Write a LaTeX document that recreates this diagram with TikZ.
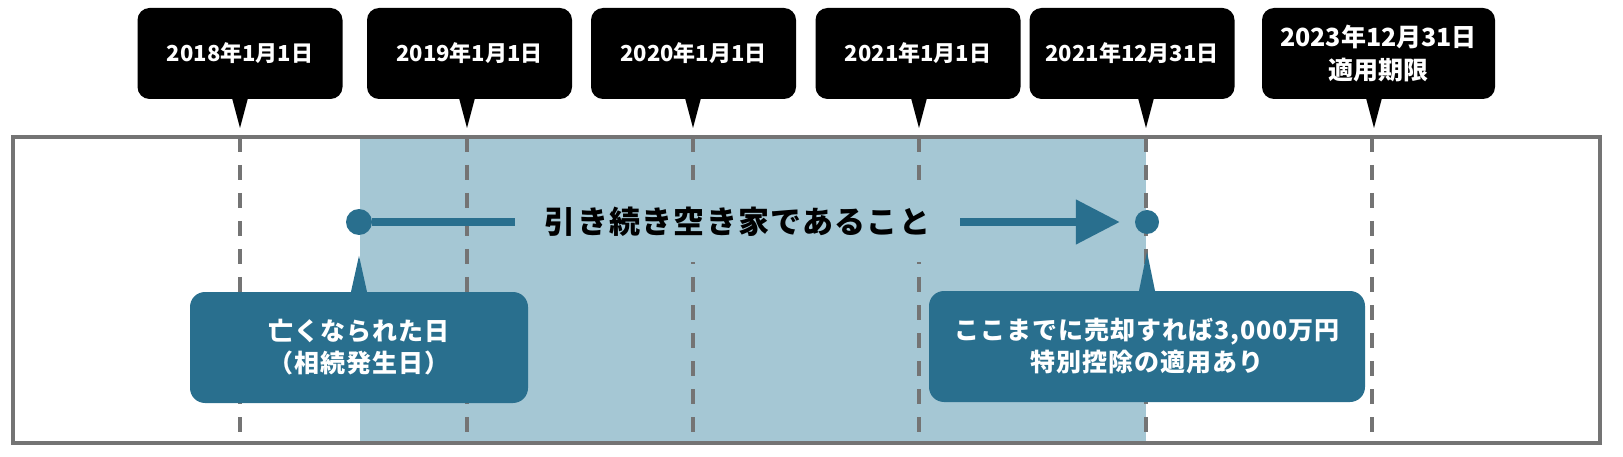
\documentclass[tikz,border=0pt]{standalone}
\usepackage{fontspec}
\usepackage{xcolor}
\usetikzlibrary{arrows.meta,positioning}
\setmainfont{Noto Sans CJK JP}
\newfontfamily\jpspaced[LetterSpace=4]{Noto Sans CJK JP}
\newfontfamily\jpwide[LetterSpace=4]{Noto Sans CJK JP}
\definecolor{shadeblue}{HTML}{A5C7D4}
\definecolor{calloutblue}{HTML}{296F8E}
\definecolor{framegray}{HTML}{747474}

\begin{document}
\begin{tikzpicture}[x=1pt,y=-1pt]
\tikzstyle{datebox} = [fill=black, text=white, rounded corners=12pt, minimum width=205pt, minimum height=91pt, inner sep=0, align=center, font=\fontsize{22}{27}\selectfont\bfseries]
\tikzstyle{notebox} = [fill=calloutblue, text=white, rounded corners=15pt, minimum height=111pt, inner sep=0, align=center, font=\jpspaced\fontsize{25}{32}\selectfont\bfseries]
\tikzstyle{guide} = [framegray, line width=3.5pt, dash pattern=on 15pt off 13pt]
\tikzstyle{enddot} = [circle, fill=calloutblue, inner sep=0, minimum size=26pt]
\tikzstyle{spanline} = [calloutblue, line width=8pt]

\useasboundingbox (0,0) rectangle (1623,457);

\fill[shadeblue] (360,137) rectangle (1146,443);
\draw[guide] (240,137) -- (240,443);
\draw[guide] (467,137) -- (467,443);
\draw[guide] (693,137) -- (693,443);
\draw[guide] (919,137) -- (919,443);
\draw[guide] (1146,137) -- (1146,443);
\draw[guide] (1372,137) -- (1372,443);
\draw[framegray, line width=3.5pt] (13,137) rectangle (1600,443);

\node[datebox] (d18) at (240,53.5) {2018年1月1日};
\node[datebox] (d19) at (469.5,53.5) {2019年1月1日};
\node[datebox] (d20) at (693.5,53.5) {2020年1月1日};
\node[datebox] (d21) at (918,53.5) {2021年1月1日};
\node[datebox] (d21end) at (1132,53.5) {2021年12月31日};
\node[datebox, minimum width=233pt, font=\fontsize{25}{33}\selectfont\bfseries] (d23end) at (1378.5,53.5) {2023年12月31日\\適用期限};

\coordinate (p18) at (240,128);
\coordinate (p19) at (467,128);
\coordinate (p20) at (693,128);
\coordinate (p21) at (919,128);
\coordinate (p21end) at (1146,128);
\coordinate (p23end) at (1374,128);
\fill (p18) -- ++(-8,-30) -- ++(16,0) -- cycle;
\fill (p19) -- ++(-8,-30) -- ++(16,0) -- cycle;
\fill (p20) -- ++(-8,-30) -- ++(16,0) -- cycle;
\fill (p21) -- ++(-8,-30) -- ++(16,0) -- cycle;
\fill (p21end) -- ++(-8,-30) -- ++(16,0) -- cycle;
\fill (p23end) -- ++(-8,-30) -- ++(16,0) -- cycle;

\node[fill=shadeblue, minimum width=445pt, minimum height=80pt, inner sep=0, font=\jpwide\fontsize{31}{36}\selectfont\bfseries] (vacant) at (737.5,222) {引き続き空き家であること};
\node[enddot] (start) at (359,222) {};
\node[enddot, minimum size=24pt] (finish) at (1147,222) {};
\draw[spanline] (start) -- (vacant.west);
\draw[spanline, -{Triangle[length=44pt,width=43pt]}, shorten >=15pt] (vacant.east) -- (finish);

\node[notebox, minimum width=338pt] (death) at (359,347.5) {亡くなられた日\\（相続発生日）};
\node[notebox, minimum width=436pt] (sale) at (1147,346.5) {ここまでに売却すれば3,000万円\\特別控除の適用あり};
\fill[calloutblue] ([xshift=-8pt]death.north) -- ++(8,-36) -- ++(8,36) -- cycle;
\fill[calloutblue] ([xshift=-8pt]sale.north) -- ++(8,-39) -- ++(8,39) -- cycle;
\end{tikzpicture}
\end{document}
